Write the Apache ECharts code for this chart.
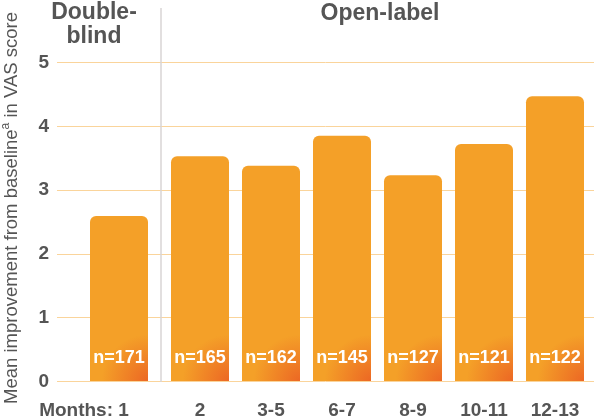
<!DOCTYPE html>
<html>
<head>
<meta charset="utf-8">
<script src="https://cdn.jsdelivr.net/npm/echarts@6/dist/echarts.min.js"></script>
<style>html,body{margin:0;padding:0;background:#fff;}#c{width:594px;height:420px;}</style>
</head>
<body>
<div id="c"></div>
<script>
// Data
const dbCategories = ['1'];
const dbValues = [2.59];
const dbN = ['n=171'];
const olCategories = ['2', '3-5', '6-7', '8-9', '10-11', '12-13'];
const olValues = [3.53, 3.38, 3.85, 3.23, 3.72, 4.47];
const olN = ['n=165', 'n=162', 'n=145', 'n=127', 'n=121', 'n=122'];
const yTicks = [0, 1, 2, 3, 4, 5];
const headerDB = 'Double-\nblind';
const headerOL = 'Open-label';
const yName = 'Mean improvement from baseline{sup|a} in VAS score';

const FONT = "'Liberation Sans', Arial, Helvetica, sans-serif";
const GRAY = '#555555';
const GRID_TOP = 62.5, GRID_BOTTOM = 38.5;

const barColor = {
  type: 'radial', x: 1, y: 1, r: 0.8,
  colorStops: [
    { offset: 0, color: '#EC6724' },
    { offset: 1, color: '#F4A028' }
  ]
};

function barSeries(values, labels, xi, yi) {
  return {
    type: 'bar',
    xAxisIndex: xi, yAxisIndex: yi,
    barWidth: 58,
    data: values.map((v, i) => ({ value: v, label: { formatter: labels[i] } })),
    itemStyle: { color: barColor, borderRadius: [6, 6, 0, 0] },
    label: {
      show: true, position: 'insideBottom', distance: 14,
      color: '#fff', fontFamily: FONT, fontWeight: 'bold', fontSize: 18
    },
    silent: true
  };
}

const chart = echarts.init(document.getElementById('c'), null, { renderer: 'canvas' });
chart.setOption({
  animation: false,
  backgroundColor: '#fff',
  grid: [
    { left: 57, right: 0, top: GRID_TOP, bottom: GRID_BOTTOM },
    { left: 57, width: 124, top: GRID_TOP, bottom: GRID_BOTTOM },
    { left: 164.5, right: 3.5, top: GRID_TOP, bottom: GRID_BOTTOM }
  ],
  xAxis: [
    { gridIndex: 0, type: 'category', data: [''], show: false },
    {
      gridIndex: 1, type: 'category', data: dbCategories,
      axisLine: { show: false }, axisTick: { show: false }, splitLine: { show: false },
      axisLabel: {
        margin: 20, color: GRAY, fontFamily: FONT, fontWeight: 'bold', fontSize: 19,
        formatter: v => 'Months: ' + v + '{s|}',
        rich: { s: { width: 70 } }
      }
    },
    {
      gridIndex: 2, type: 'category', data: olCategories,
      axisLine: { show: false }, axisTick: { show: false }, splitLine: { show: false },
      axisLabel: { margin: 20, color: GRAY, fontFamily: FONT, fontWeight: 'bold', fontSize: 19, interval: 0 }
    }
  ],
  yAxis: [
    {
      gridIndex: 0, type: 'value', min: yTicks[0], max: yTicks[yTicks.length - 1], interval: 1,
      axisLine: { show: false }, axisTick: { show: false },
      axisLabel: { margin: 8, color: GRAY, fontFamily: FONT, fontWeight: 'bold', fontSize: 19 },
      splitLine: { lineStyle: { color: '#FAD49B', width: 1 } }
    },
    { gridIndex: 1, type: 'value', min: 0, max: 5, show: false, splitLine: { show: false } },
    { gridIndex: 2, type: 'value', min: 0, max: 5, show: false, splitLine: { show: false } }
  ],
  series: [
    barSeries(dbValues, dbN, 1, 1),
    barSeries(olValues, olN, 2, 2)
  ],
  graphic: [
    {
      type: 'line', z: 10,
      shape: { x1: 161, y1: 8, x2: 161, y2: 382 },
      style: { stroke: '#D8D4D4', lineWidth: 1.5 }
    },
    {
      type: 'text', x: 94, y: 1,
      style: {
        text: headerDB, fill: GRAY, font: 'bold 23px ' + FONT,
        textAlign: 'center', textVerticalAlign: 'top', lineHeight: 24
      }
    },
    {
      type: 'text', x: 380, y: 2,
      style: {
        text: headerOL, fill: GRAY, font: 'bold 23px ' + FONT,
        textAlign: 'center', textVerticalAlign: 'top'
      }
    },
    {
      type: 'text', x: 12, y: 208, rotation: Math.PI / 2,
      style: {
        text: yName, fill: GRAY, font: '18.5px ' + FONT,
        textAlign: 'center', textVerticalAlign: 'middle',
        rich: { sup: { fontSize: 12, fill: GRAY, fontFamily: FONT, padding: [0, 0, 12, 0] } }
      }
    }
  ]
});
</script>
</body>
</html>
